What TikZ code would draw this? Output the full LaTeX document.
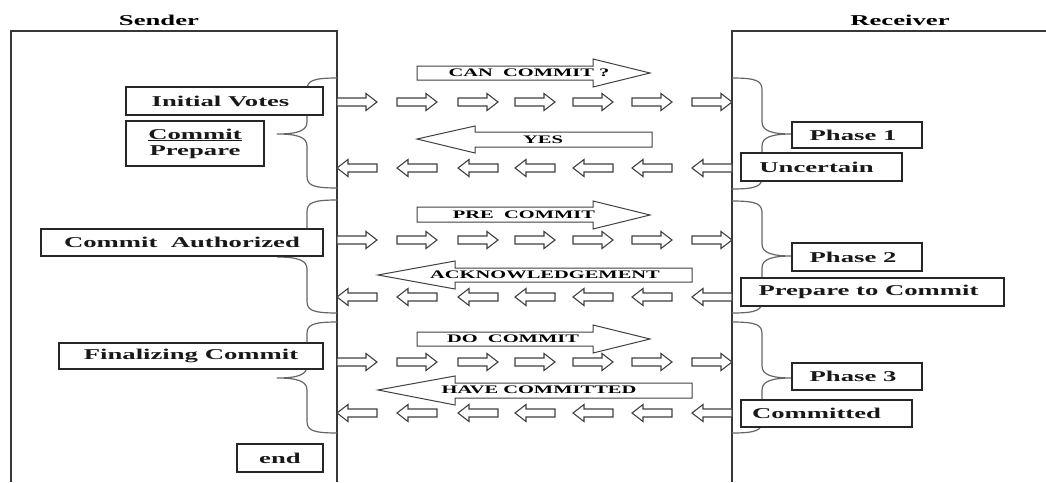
\documentclass[tikz,border=0pt]{standalone}
\usepackage{fontspec}
\setmainfont{Liberation Serif}[FakeStretch=1.78]
\begin{document}
\begin{tikzpicture}[x=1pt,y=-1pt,
  frame/.style={draw=black!78,line width=1.4pt},
  bracel/.style={draw=black!60,line width=1.2pt},
  box/.style={draw=black!85,line width=1.1pt,fill=white,inner sep=0pt,
    font=\fontsize{15}{17}\selectfont\bfseries,text=black!90},
  head/.style={font=\fontsize{15}{17}\selectfont\bfseries,anchor=base},
  alabel/.style={font=\fontsize{11.5}{13}\selectfont\bfseries,inner sep=0pt},
  bigarrow/.style={draw=black!75,line width=1pt,fill=white},
  smallarrow/.style={draw=black!75,line width=1.1pt,fill=white,line join=miter},
  rsmall/.pic={\draw[smallarrow] (0,-4) -- (29,-4) -- (29,-8.5) -- (40,0) -- (29,8.5) -- (29,4) -- (0,4) -- cycle;},
  lsmall/.pic={\draw[smallarrow] (0,0) -- (11,-8.5) -- (11,-4) -- (40,-4) -- (40,4) -- (11,4) -- (11,8.5) -- cycle;}
]
\useasboundingbox (0,0) rectangle (1046,482);

% headers
\node[head] (sender) at (159,25) {Sender};
\node[head] (receiver) at (900,25) {Receiver};

% frames
\draw[frame] (11,482) -- (11,31) -- (337,31) -- (337,482);
\draw[frame] (1046,31) -- (732,31) -- (732,482);

% sender braces (tip to the left)
\foreach \a/\m/\b in {78/134/188, 200/257/313, 322/378/433}{
  \draw[bracel] (337,\a) .. controls (312,\a) and (307,\a+3) .. (307,\a+12)
    -- (307,\m-12) .. controls (307,\m-3) and (297,\m) .. (277,\m)
    .. controls (297,\m) and (307,\m+3) .. (307,\m+12)
    -- (307,\b-12) .. controls (307,\b-3) and (312,\b) .. (337,\b);
}
% receiver braces (tip to the right)
\foreach \a/\m/\b in {78/134/189, 201/256/313, 322/378/433}{
  \draw[bracel] (732,\a) .. controls (757,\a) and (762,\a+3) .. (762,\a+12)
    -- (762,\m-12) .. controls (762,\m-3) and (772,\m) .. (792,\m)
    .. controls (772,\m) and (762,\m+3) .. (762,\m+12)
    -- (762,\b-12) .. controls (762,\b-3) and (757,\b) .. (732,\b);
}

% small arrows
\foreach \y in {102,240,362}{
  \foreach \x in {337,397,458,515,573,632,692} \pic at (\x,\y) {rsmall};
}
\foreach \y in {168,297,413}{
  \foreach \x in {337,397,458,515,573,632,692} \pic at (\x,\y) {lsmall};
}

% big message arrows
\draw[bigarrow] (417,66) -- (593,66) -- (593,59) -- (650,73) -- (593,87) -- (593,80) -- (417,80) -- cycle;
\node[alabel] (m1) at (529,73) {CAN\ \ COMMIT ?};
\draw[bigarrow] (417,139) -- (475,126) -- (475,132) -- (652,132) -- (652,147) -- (475,147) -- (475,153) -- cycle;
\node[alabel] (m2) at (543,140) {YES};
\draw[bigarrow] (417,207) -- (593,207) -- (593,201) -- (650,215) -- (593,229) -- (593,222) -- (417,222) -- cycle;
\node[alabel] (m3) at (524,215) {PRE\ \ COMMIT};
\draw[bigarrow] (378,275) -- (455,261) -- (455,268) -- (692,268) -- (692,282) -- (455,282) -- (455,289) -- cycle;
\node[alabel] (m4) at (545,275) {ACKNOWLEDGEMENT};
\draw[bigarrow] (417,332) -- (593,332) -- (593,325) -- (650,339) -- (593,353) -- (593,346) -- (417,346) -- cycle;
\node[alabel] (m5) at (513,339) {DO\ \ COMMIT};
\draw[bigarrow] (378,390) -- (455,376) -- (455,383) -- (692,383) -- (692,398) -- (455,398) -- (455,405) -- cycle;
\node[alabel] (m6) at (539,390) {HAVE COMMITTED};

% sender boxes
\node[box,minimum width=197,minimum height=28] (iv) at (224.5,101) {Initial Votes\hspace*{8pt}};
\node[box,minimum width=138,minimum height=45,align=center] (cp) at (195,143.5) {\underline{Commit}\\[-1pt]Prepare};
\node[box,minimum width=282,minimum height=27] (ca) at (182,242.5) {Commit\ \ Authorized};
\node[box,minimum width=264,minimum height=26] (fc) at (191,356) {Finalizing Commit};
\node[box,minimum width=86,minimum height=28] (end) at (280,458) {end};

% receiver boxes
\node[box,minimum width=130,minimum height=26] (p1) at (857,135) {Phase 1\hspace*{8pt}};
\node[box,minimum width=161,minimum height=28] (unc) at (821.5,167) {Uncertain\hspace*{10pt}};
\node[box,minimum width=130,minimum height=28] (p2) at (857,257) {Phase 2\hspace*{8pt}};
\node[box,minimum width=263,minimum height=28] (ptc) at (872.5,292) {Prepare to Commit\hspace*{8pt}};
\node[box,minimum width=130,minimum height=27] (p3) at (857,376.5) {Phase 3\hspace*{8pt}};
\node[box,minimum width=171,minimum height=27] (cmt) at (826.5,413.5) {Committed\hspace*{20pt}};
\end{tikzpicture}
\end{document}
